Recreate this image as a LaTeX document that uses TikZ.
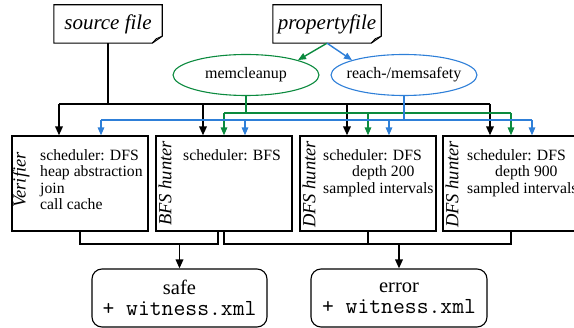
\documentclass[tikz,border=0pt]{standalone}
\usepackage{fontspec}
\setmainfont{Liberation Serif}
\usetikzlibrary{arrows.meta,shapes.geometric,calc}
\definecolor{pgreen}{HTML}{0B8A3E}
\definecolor{pblue}{HTML}{2E7FD8}
\begin{document}
\begin{tikzpicture}[x=1pt,y=-1pt,
  doc/.style={minimum width=108pt,minimum height=38pt,inner sep=0pt,font=\fontsize{21}{24}\selectfont\itshape},
  ell/.style={ellipse,line width=1.1pt,minimum width=146pt,minimum height=41pt,inner sep=0pt,font=\fontsize{16}{18}\selectfont},
  box/.style={draw,line width=1.2pt,minimum width=136pt,minimum height=95pt,inner sep=0pt},
  lab/.style={rotate=90,inner sep=0pt,font=\fontsize{18.5}{20}\selectfont\itshape},
  txt/.style={anchor=north west,align=left,inner sep=0pt,font=\fontsize{15.7}{16.5}\selectfont},
  res/.style={draw,line width=1.1pt,rounded corners=10pt,minimum height=58pt,inner sep=0pt,align=center,font=\fontsize{20.5}{20.5}\selectfont},
  mono/.style={font=\fontsize{23}{20.5}\selectfont\ttfamily},
  blk/.style={line width=1.7pt},
  blka/.style={blk,-{Triangle[length=9pt,width=7.5pt]}},
  grn/.style={pgreen,line width=1.4pt},
  grna/.style={grn,-{Triangle[length=8pt,width=6.5pt]}},
  blu/.style={pblue,line width=1.4pt},
  blua/.style={blu,-{Triangle[length=8pt,width=6.5pt]}},
  dogear/.style={line width=1.1pt,line join=miter}
]
\path[use as bounding box,clip] (0,0) rectangle (574,328);

% input documents
\node[doc] (src) at (108,24) {source file};
\node[doc] (prop) at (327,24) {propertyfile};
\foreach \d in {src,prop}{
  \draw[dogear] (\d.south west) -- (\d.north west) -- (\d.north east)
    -- ([yshift=7pt]\d.south east) -- ([xshift=-10pt]\d.south east) -- cycle;
  \draw[line width=0.8pt] ([xshift=-10pt]\d.south east) -- ([xshift=-6pt,yshift=4.5pt]\d.south east)
    -- ([yshift=7pt]\d.south east);
}

% properties
\node[ell,draw=pgreen] (mem) at (246,75) {\makebox[0pt]{memcleanup}};
\node[ell,draw=pblue] (reach) at (404,75) {\makebox[0pt]{reach-/memsafety}};
\draw[grna] (prop.south) -- (mem.north east);
\draw[blua] (prop.south) -- (reach.north west);

% analysis boxes
\node[box] (b1) at (80,183.5) {};
\node[box] (b2) at (224,183.5) {};
\node[box] (b3) at (368,183.5) {};
\node[box] (b4) at (511,183.5) {};
\node[lab] (l1) at (21,180) {Verifier};
\node[lab] (l2) at (165,183.5) {BFS hunter};
\node[lab] (l3) at (309,184.5) {DFS hunter};
\node[lab] (l4) at (452,184.5) {DFS hunter};
\node[txt] (t1) at (40,149) {scheduler: DFS\\heap abstraction\\join\\call cache};
\node[txt] (t2) at (183,149) {scheduler: BFS};
\node[txt] (t3) at (323,149) {scheduler: DFS\\\hspace*{29pt}depth 200\\sampled intervals};
\node[txt] (t4) at (467,149) {scheduler: DFS\\\hspace*{28pt}depth 900\\sampled intervals};

% buses
\coordinate (busK) at (0,104);
\coordinate (busG) at (0,113);
\coordinate (busB) at (0,120);
\coordinate (busO) at (0,244);
\foreach \bx in {b1,b2,b3,b4}{
  \coordinate (\bx k) at ([xshift=-21pt]\bx.north);
  \coordinate (\bx g) at (\bx.north);
  \coordinate (\bx b) at ([xshift=21pt]\bx.north);
}

% source file (black)
\draw[blk] (src.south) -- (src.south |- busK);
\draw[blk] (b1k |- busK) -- (b4k |- busK);
\foreach \bx in {b1,b2,b3,b4}{\draw[blka] (\bx k |- busK) -- (\bx k);}

% memcleanup (green)
\draw[grn] (mem.south) -- (mem.south |- busG);
\draw[grn] (b2g |- busG) -- (b4g |- busG);
\foreach \bx in {b2,b3,b4}{\draw[grna] (\bx g |- busG) -- (\bx g);}

% reach/memsafety (blue)
\draw[blu] (reach.south) -- (reach.south |- busB);
\draw[blu] (b1b |- busB) -- (b4b |- busB);
\foreach \bx in {b1,b2,b3,b4}{\draw[blua] (\bx b |- busB) -- (\bx b);}

% results
\node[res,minimum width=175pt] (safe) at (179.5,298) {safe\\{\fontsize{23}{20.5}\selectfont\ttfamily + witness.xml}};
\node[res,minimum width=176pt] (err) at (399,298) {error\\{\fontsize{23}{20.5}\selectfont\ttfamily + witness.xml}};
\coordinate (o2) at ([xshift=-6pt]b2.south);
\draw[blk,line join=miter] (b1.south) -- (b1.south |- busO) -- (o2 |- busO) -- (o2);
\draw[blk,line join=miter] (b2.south) -- (b2.south |- busO) -- (b4.south |- busO) -- (b4.south);
\draw[blk] (b3.south) -- (b3.south |- busO);
\draw[blka] (safe.north |- busO) -- (safe.north);
\draw[blka] (err.north |- busO) -- (err.north);
\end{tikzpicture}
\end{document}
